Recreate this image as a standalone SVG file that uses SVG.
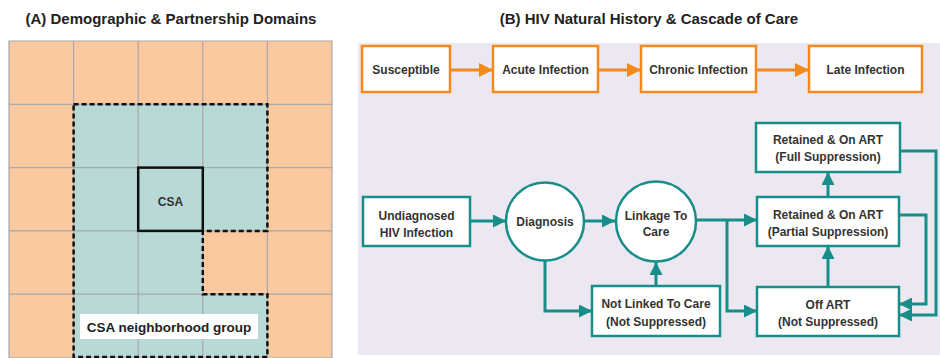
<svg xmlns="http://www.w3.org/2000/svg" width="940" height="358" viewBox="0 0 940 358">
  <defs>
    <marker id="arrow-orange" viewBox="0 0 10 10" refX="10" refY="5" markerWidth="14" markerHeight="14" markerUnits="userSpaceOnUse" orient="auto">
      <path d="M0,0 L10,5 L0,10 z" fill="#f28a1e"/>
    </marker>
    <marker id="arrow-teal" viewBox="0 0 10 10" refX="10" refY="5" markerWidth="13" markerHeight="13" markerUnits="userSpaceOnUse" orient="auto">
      <path d="M0,0 L10,5 L0,10 z" fill="#178e89"/>
    </marker>
  </defs>
  <style>
    .title { font-family: "Liberation Sans", Arial, sans-serif; font-weight: bold; font-size: 15px; fill: #222; text-anchor: middle; }
    .lbl { font-family: "Liberation Sans", Arial, sans-serif; font-weight: bold; font-size: 12px; fill: #333; text-anchor: middle; }
    .orange-box { fill: #ffffff; stroke: #f28a1e; stroke-width: 2.5; }
    .teal-box { fill: #ffffff; stroke: #178e89; stroke-width: 2.5; }
    .orange-line { fill: none; stroke: #f28a1e; stroke-width: 3; marker-end: url(#arrow-orange); }
    .teal-line { fill: none; stroke: #178e89; stroke-width: 3; marker-end: url(#arrow-teal); }
    .cell-o { fill: #fbc9a0; }
    .cell-t { fill: #b9d9d7; }
    .grid { stroke: #a8a8a8; stroke-width: 1.2; fill: none; }
  </style>

  <rect x="0" y="0" width="940" height="358" fill="#ffffff"/>

  <!-- Panel A: domain grid -->
  <text class="title" x="171" y="24">(A) Demographic &amp; Partnership Domains</text>
  <g id="grid">
    <rect class="cell-o" x="9" y="41" width="323" height="317"/>
    <rect class="cell-t" x="73.6" y="104.3" width="193.8" height="126.6"/>
    <rect class="cell-t" x="73.6" y="230.9" width="129.2" height="63.3"/>
    <rect class="cell-t" x="73.6" y="294.2" width="193.8" height="63.3"/>
    <path class="grid" d="M9,41 H332 V358 H9 Z M73.6,41 V358 M138.2,41 V358 M202.8,41 V358 M267.4,41 V358 M9,104.3 H332 M9,167.6 H332 M9,230.9 H332 M9,294.2 H332"/>
  </g>
  <g id="neighborhood">
    <path d="M73.6,104.3 H267.4 V230.9 H202.8 V294.2 H267.4 V357 H73.6 Z" fill="none" stroke="#111" stroke-width="2.5" stroke-dasharray="5,3"/>
    <rect x="80" y="314" width="178" height="25" fill="#ffffff"/>
    <text x="169" y="331.5" font-family="Liberation Sans, Arial, sans-serif" font-weight="bold" font-size="13.5" fill="#222" text-anchor="middle">CSA neighborhood group</text>
  </g>
  <g id="csa">
    <rect x="138.2" y="167.6" width="64.6" height="63.3" fill="none" stroke="#111" stroke-width="2.5"/>
    <text class="lbl" x="170.5" y="206">CSA</text>
  </g>

  <!-- Panel B: natural history and care cascade -->
  <text class="title" x="649" y="24">(B) HIV Natural History &amp; Cascade of Care</text>
  <rect x="358" y="43" width="582" height="312" fill="#ece8f1"/>

  <g id="connectors">
    <path class="orange-line" d="M450,70 H493"/>
    <path class="orange-line" d="M598,70 H641"/>
    <path class="orange-line" d="M756,70 H809"/>

    <path class="teal-line" d="M470,221 H506"/>
    <path class="teal-line" d="M584,221 H615"/>
    <path class="teal-line" d="M545,260 V311 H592"/>
    <path class="teal-line" d="M656,286 V262"/>
    <path class="teal-line" d="M697,220 H757"/>
    <path class="teal-line" d="M727,220 V311 H757"/>
    <path class="teal-line" d="M828,287 V246"/>
    <path class="teal-line" d="M828,197 V172"/>
    <path class="teal-line" d="M899,215 H926 V304 H899"/>
    <path class="teal-line" d="M900,151 H936 V315 H899"/>
  </g>

  <g id="susceptible">
    <rect class="orange-box" x="362" y="46" width="88" height="46"/>
    <text class="lbl" x="406" y="73.5">Susceptible</text>
  </g>
  <g id="acute">
    <rect class="orange-box" x="493" y="46" width="105" height="46"/>
    <text class="lbl" x="545.5" y="73.5">Acute Infection</text>
  </g>
  <g id="chronic">
    <rect class="orange-box" x="641" y="46" width="115" height="46"/>
    <text class="lbl" x="698.5" y="73.5">Chronic Infection</text>
  </g>
  <g id="late">
    <rect class="orange-box" x="809" y="46" width="113" height="46"/>
    <text class="lbl" x="865.5" y="73.5">Late Infection</text>
  </g>

  <g id="undiagnosed">
    <rect class="teal-box" x="363" y="197" width="107" height="49"/>
    <text class="lbl" x="416.5" y="220">Undiagnosed</text>
    <text class="lbl" x="416.5" y="237">HIV Infection</text>
  </g>
  <g id="diagnosis">
    <circle class="teal-box" cx="545" cy="221.5" r="39"/>
    <text class="lbl" x="545" y="226">Diagnosis</text>
  </g>
  <g id="linkage">
    <circle class="teal-box" cx="656" cy="221.5" r="40"/>
    <text class="lbl" x="656" y="220">Linkage To</text>
    <text class="lbl" x="656" y="236">Care</text>
  </g>
  <g id="not-linked">
    <rect class="teal-box" x="592" y="286" width="128" height="50"/>
    <text class="lbl" x="656" y="308">Not Linked To Care</text>
    <text class="lbl" x="656" y="326">(Not Suppressed)</text>
  </g>
  <g id="full-suppression">
    <rect class="teal-box" x="756" y="123" width="144" height="49"/>
    <text class="lbl" x="828" y="144">Retained &amp; On ART</text>
    <text class="lbl" x="828" y="161">(Full Suppression)</text>
  </g>
  <g id="partial-suppression">
    <rect class="teal-box" x="757" y="197" width="142" height="49"/>
    <text class="lbl" x="828" y="219">Retained &amp; On ART</text>
    <text class="lbl" x="828" y="236">(Partial Suppression)</text>
  </g>
  <g id="off-art">
    <rect class="teal-box" x="757" y="287" width="142" height="49"/>
    <text class="lbl" x="828" y="309">Off ART</text>
    <text class="lbl" x="828" y="326">(Not Suppressed)</text>
  </g>
</svg>
